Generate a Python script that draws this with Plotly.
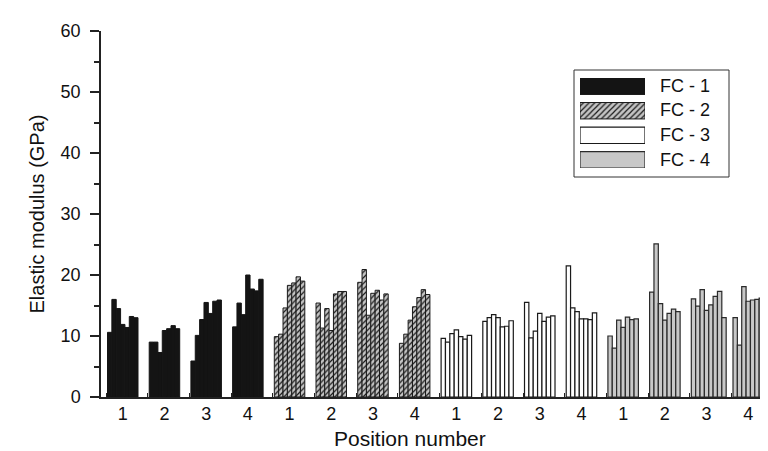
import plotly.graph_objects as go

# ---------------- data ----------------
series_names = ["FC - 1", "FC - 2", "FC - 3", "FC - 4"]
position_labels = ["1", "2", "3", "4"]

fc1 = [[10.6, 16.0, 14.5, 11.9, 11.4, 13.2, 13.0],
       [9.0, 9.0, 7.3, 10.9, 11.2, 11.7, 11.2],
       [5.9, 10.1, 12.7, 15.5, 13.7, 15.7, 15.9],
       [11.5, 15.4, 13.5, 20.0, 17.7, 17.4, 19.3]]
fc2 = [[9.9, 10.3, 14.6, 18.3, 18.7, 19.7, 19.0],
       [15.4, 11.3, 14.5, 10.9, 16.9, 17.3, 17.3],
       [18.8, 20.9, 13.4, 17.0, 17.5, 15.9, 16.9],
       [8.8, 10.3, 12.6, 14.8, 16.3, 17.6, 16.8]]
fc3 = [[9.6, 9.0, 10.4, 11.0, 9.9, 9.5, 10.1],
       [12.4, 13.0, 13.5, 13.0, 11.5, 11.6, 12.5],
       [15.5, 9.7, 10.8, 13.7, 12.4, 13.1, 13.3],
       [21.5, 14.6, 14.0, 12.8, 12.8, 12.7, 13.8]]
fc4 = [[10.0, 8.0, 12.6, 11.4, 13.1, 12.7, 12.8],
       [17.2, 25.1, 15.3, 12.6, 13.7, 14.4, 14.0],
       [16.1, 14.9, 17.6, 14.2, 15.1, 16.5, 17.3, 13.0],
       [13.0, 8.5, 18.1, 15.7, 15.9, 16.0, 16.2]]
all_series = [fc1, fc2, fc3, fc4]

x_title = "Position number"
y_title = "Elastic modulus (GPa)"

# ---------------- styles ----------------
FONT = "Liberation Sans, Arial, Helvetica, sans-serif"
styles = [
    dict(color="#141414", line=dict(color="#141414", width=1)),
    dict(color="#c4c4c4", line=dict(color="#1a1a1a", width=1),
         pattern=dict(shape="/", fgcolor="#1a1a1a", bgcolor="#c4c4c4",
                      size=4, solidity=0.3)),
    dict(color="#ffffff", line=dict(color="#1a1a1a", width=1.2)),
    dict(color="#c8c8c8", line=dict(color="#2a2a2a", width=1.2)),
]

BW = 0.1045      # bar width in slot units
OFF = 0.036      # offset of first bar inside slot

fig = go.Figure()
tickvals, ticktext = [], []
for s, (name, groups) in enumerate(zip(series_names, all_series)):
    xs, ys = [], []
    for p, vals in enumerate(groups):
        g = s * 4 + p
        for i, v in enumerate(vals):
            xs.append(g + OFF + (i + 0.5) * BW)
            ys.append(v)
        tickvals.append(g + OFF + 3.5 * BW)
        ticktext.append(position_labels[p])
    fig.add_trace(go.Bar(x=xs, y=ys, width=BW, name=name,
                         marker=styles[s], showlegend=False,
                         xaxis="x", yaxis="y"))

# custom legend swatches drawn as bars on an overlay axis
for s, name in enumerate(series_names):
    fig.add_trace(go.Bar(x=[1], y=[3 - s], base=0, orientation="h", width=0.67,
                         marker=styles[s], showlegend=False, hoverinfo="skip",
                         xaxis="x2", yaxis="y2"))

W, H = 768, 451
L, R, T, B = 93, 0, 23, 62
pw, ph = W - L - R, H - T - B

def px(xp):
    return (xp - L) / pw

def py(yp):
    return (H - B - yp) / ph

fig.update_layout(
    template="none",
    width=W, height=H,
    margin=dict(l=L, r=R, t=T, b=B, pad=0, autoexpand=False),
    paper_bgcolor="white", plot_bgcolor="white",
    barmode="overlay",
    font=dict(family=FONT, size=18, color="#111"),
    xaxis=dict(
        automargin=False,
        range=[-0.12, 16.067], showgrid=False, zeroline=False,
        showline=True, linecolor="#222", linewidth=1.5,
        tickmode="array", tickvals=tickvals, ticktext=ticktext,
        ticks="", tickfont=dict(size=18),
        minor=dict(tickmode="linear", tick0=0, dtick=1, ticks="inside",
                   ticklen=4, tickcolor="#222", tickwidth=1, showgrid=False),
    ),
    yaxis=dict(
        automargin=False,
        range=[0, 60], showgrid=False, zeroline=False,
        showline=True, linecolor="#222", linewidth=1.5,
        tickmode="linear", tick0=0, dtick=10,
        ticks="outside", ticklen=9, tickwidth=1.5, tickcolor="#222",
        ticklabelstandoff=6, tickfont=dict(size=18),
        minor=dict(tickmode="linear", tick0=0, dtick=5, ticks="outside",
                   ticklen=5, tickcolor="#222", tickwidth=1.5, showgrid=False),
        title=dict(text=y_title, font=dict(size=20), standoff=11),
    ),
    xaxis2=dict(domain=[px(572), px(637)], anchor="y2", range=[0, 1],
                visible=False, fixedrange=True),
    yaxis2=dict(domain=[py(160), py(70)], anchor="x2", range=[-0.335, 3.335],
                visible=False, fixedrange=True),
)

# x-axis title
fig.add_annotation(text=x_title, xref="paper", yref="paper",
                   x=px(402), y=py(431), xanchor="center", yanchor="middle",
                   showarrow=False, font=dict(size=21, family=FONT, color="#111"))

# legend frame
fig.add_shape(type="rect", xref="paper", yref="paper",
              x0=px(566), x1=px(721), y0=py(169), y1=py(62),
              line=dict(color="#333", width=1), fillcolor="rgba(0,0,0,0)")
row_y = [78, 102.5, 127, 152]
for s, name in enumerate(series_names):
    fig.add_annotation(text=name, xref="paper", yref="paper",
                       x=px(650), y=py(row_y[s]), xanchor="left", yanchor="middle",
                       showarrow=False, font=dict(size=18, family=FONT, color="#111"))

fig.write_html("out.html")
